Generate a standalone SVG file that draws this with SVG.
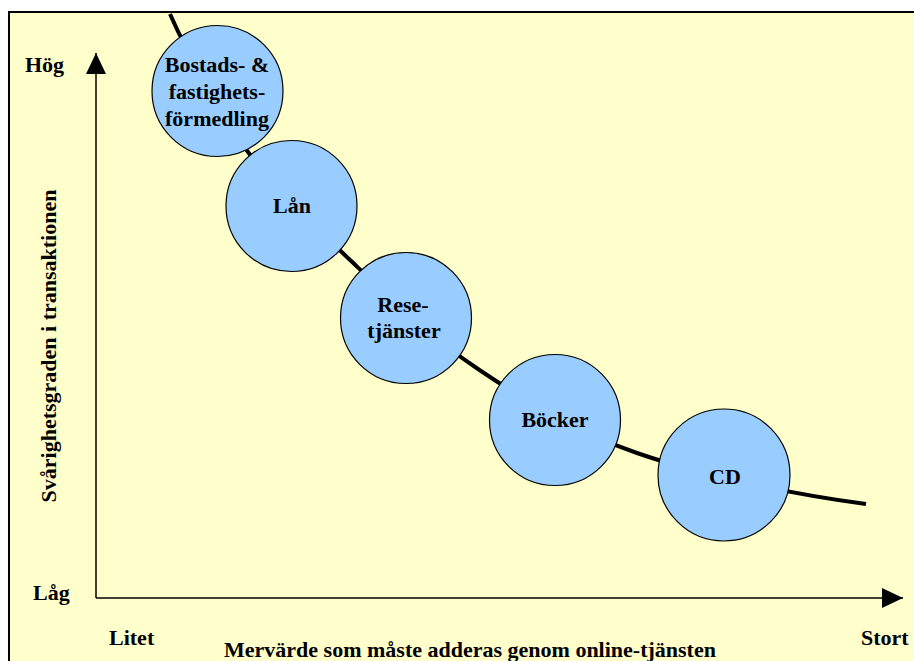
<svg xmlns="http://www.w3.org/2000/svg" width="914" height="661" viewBox="0 0 914 661">
  <defs>
    <style>
      text { font-family: 'Liberation Serif', 'Times New Roman', Times, serif; font-weight: 700; font-size: 22px; fill: #000; }
      .mid { text-anchor: middle; }
      .bubble { fill: #99CCFF; stroke: #000; stroke-width: 1.2; }
      .axis { stroke: #000; stroke-width: 1.5; fill: none; }
      .curve { stroke: #000; stroke-width: 4; fill: none; }
    </style>
    <marker id="arrow" viewBox="0 0 21 20" refX="21" refY="10" markerWidth="21" markerHeight="20" markerUnits="userSpaceOnUse" orient="auto">
      <path d="M0,0 L21,10 L0,20 Z" fill="#000"/>
    </marker>
  </defs>

  <!-- page background and frame -->
  <rect x="0" y="0" width="914" height="661" fill="#FFFFFF"/>
  <rect x="9" y="12" width="920" height="670" fill="#FFFFCC" stroke="#000" stroke-width="2"/>

  <!-- axes and trend curve -->
  <g id="connectors">
    <line class="axis" x1="96" y1="598" x2="96" y2="53" marker-end="url(#arrow)"/>
    <line class="axis" x1="96" y1="598" x2="903" y2="598" marker-end="url(#arrow)"/>
    <path class="curve" d="M170,14 C186.7,51.7 218.2,111.3 248,152 C277.8,192.7 310.7,222.8 349,259 C387.3,295.2 430,336.7 478,369 C526,401.3 572.3,430.5 637,453 C701.7,475.5 792.7,494.3 866,504"/>
  </g>

  <!-- axis labels -->
  <g id="axis-labels" font-family="'Liberation Serif', serif">
    <text x="25" y="72">Hög</text>
    <text x="33" y="600">Låg</text>
    <text x="109" y="645">Litet</text>
    <text x="861" y="645">Stort</text>
    <text class="mid" x="470" y="657">Mervärde som måste adderas genom online-tjänsten</text>
    <text class="mid" transform="translate(56,346) rotate(-90)">Svårighetsgraden i transaktionen</text>
  </g>

  <!-- service bubbles -->
  <g id="node-bostad">
    <circle class="bubble" cx="217.5" cy="91" r="65.5"/>
    <text class="mid" x="217" y="72">Bostads- &amp;</text>
    <text class="mid" x="217" y="99">fastighets-</text>
    <text class="mid" x="217" y="126">förmedling</text>
  </g>
  <g id="node-lan">
    <circle class="bubble" cx="291.5" cy="206" r="65.5"/>
    <text class="mid" x="292" y="213">Lån</text>
  </g>
  <g id="node-resor">
    <circle class="bubble" cx="406" cy="318" r="65.5"/>
    <text class="mid" x="403" y="312">Rese-</text>
    <text class="mid" x="404" y="338">tjänster</text>
  </g>
  <g id="node-bocker">
    <circle class="bubble" cx="555" cy="420" r="65.5"/>
    <text class="mid" x="555" y="427">Böcker</text>
  </g>
  <g id="node-cd">
    <circle class="bubble" cx="724" cy="475" r="66"/>
    <text class="mid" x="725" y="484">CD</text>
  </g>
</svg>
